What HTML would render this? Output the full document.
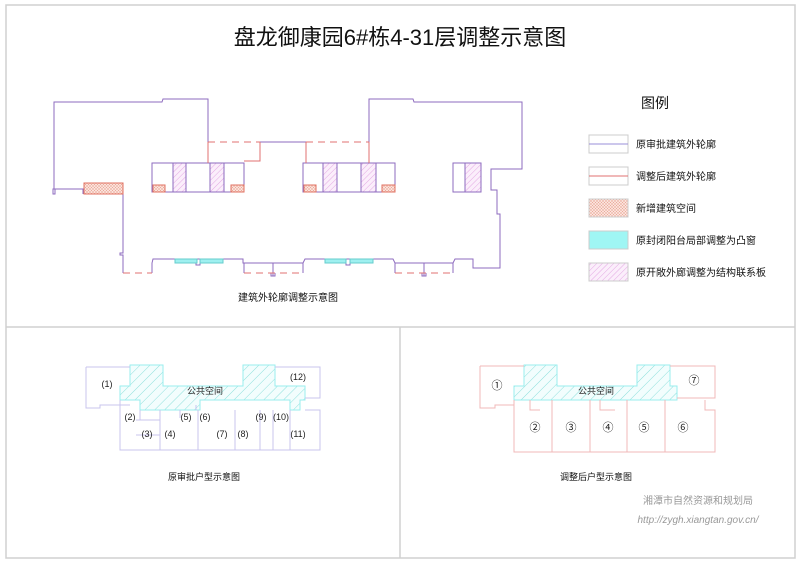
<!DOCTYPE html>
<html><head><meta charset="utf-8"><style>
html,body{margin:0;padding:0;background:#fff;width:800px;height:565px;overflow:hidden}
svg{display:block}
text{font-family:"Liberation Sans","Noto Sans CJK SC",sans-serif}
</style></head><body>
<svg width="800" height="565" viewBox="0 0 800 565" xmlns="http://www.w3.org/2000/svg">
<defs>
<pattern id="pk" width="4" height="4" patternUnits="userSpaceOnUse" patternTransform="rotate(45)"><rect width="4" height="4" fill="#fbeefb"/><line x1="0" y1="0" x2="0" y2="4" stroke="#e3a8e3" stroke-width="1"/></pattern>
<pattern id="rd" width="3" height="3" patternUnits="userSpaceOnUse"><rect width="3" height="3" fill="#fbe3dc"/><path d="M0,0L3,3M3,0L0,3" stroke="#eaa99a" stroke-width="0.5"/></pattern>
<pattern id="cy" width="7" height="7" patternUnits="userSpaceOnUse" patternTransform="rotate(45)"><rect width="7" height="7" fill="#f2fdfd"/><line x1="0" y1="0" x2="0" y2="7" stroke="#8fe0dc" stroke-width="1"/></pattern>
</defs>
<!-- frame -->
<g stroke="#d0d0d0" stroke-width="1.5" fill="none">
<rect x="6" y="5" width="789" height="553"/>
<line x1="6" y1="327" x2="795" y2="327"/>
<line x1="400" y1="327" x2="400" y2="558"/>
</g>
<text x="400" y="45" font-size="22" text-anchor="middle" fill="#111">盘龙御康园6#栋4-31层调整示意图</text>

<!-- main plan -->
<g fill="none" stroke="#8e6bbf" stroke-width="1">
<path d="M208,142 L208,99 L163,99 L162,102 L54,102 L54,189 L53,189 L53,194 L55,194 L55,189 L83,189 L83,194"/>
<path d="M123,194 L123,253 L120,253 L120,255 L123,255 L123,273"/>
<path d="M152,273 L152,263 L153,259 L243,259 L243,263 L244,263 L244,273"/>
<path d="M244,263 L303,263 M273,263 L273,276 M395,263 L453,263 M424,263 L424,276"/>
<path d="M303,273 L303,263 L305,259 L393,259 L395,263 L395,273"/>
<path d="M453,273 L453,263 L455,259 L473,259 L473,268 L500,268 L500,214 L497,214 L497,190 L491,190 L491,169 L522,169 L522,102 L414,102 L413,99 L369,99 L369,142"/>
<path d="M260,142 L306,142"/>
<path d="M196,259 L196,265 L200,265 L200,259 M346,259 L346,265 L350,265 L350,259 M271,273 L271,276 L275,276 L275,273 M422,273 L422,276 L426,276 L426,273"/>
<rect x="152" y="163" width="92" height="29"/>
<rect x="303" y="163" width="92" height="29"/>
<rect x="453" y="163" width="28" height="29"/>
</g>
<rect x="173" y="163" width="13" height="29" fill="url(#pk)" stroke="#8e6bbf"/>
<rect x="210" y="163" width="14" height="29" fill="url(#pk)" stroke="#8e6bbf"/>
<rect x="323" y="163" width="14" height="29" fill="url(#pk)" stroke="#8e6bbf"/>
<rect x="361" y="163" width="15" height="29" fill="url(#pk)" stroke="#8e6bbf"/>
<rect x="465" y="163" width="16" height="29" fill="url(#pk)" stroke="#8e6bbf"/>
<g fill="url(#rd)" stroke="#e07060">
<rect x="84" y="183" width="39" height="11"/>
<rect x="153" y="185" width="12" height="7"/>
<rect x="231" y="185" width="13" height="7"/>
<rect x="304" y="185" width="12" height="7"/>
<rect x="382" y="185" width="13" height="7"/>
</g>
<g fill="#9ff0f0" stroke="#6cc">
<rect x="175" y="259" width="22" height="4"/><rect x="200" y="259" width="23" height="4"/>
<rect x="325" y="259" width="21" height="4"/><rect x="350" y="259" width="23" height="4"/>
</g>
<g fill="none" stroke="#e07070" stroke-width="1">
<path d="M208,142 L208,163 M260,142 L260,161 L244,161 M306,142 L306,163 M369,142 L369,163"/>
<path d="M208,142 L260,142 M306,142 L369,142 M123,273 L152,273 M244,273 L303,273 M395,273 L453,273" stroke-dasharray="7,5"/>
</g>
<text x="288" y="301" font-size="10" text-anchor="middle" fill="#111">建筑外轮廓调整示意图</text>

<!-- legend -->
<text x="655" y="108" font-size="14" text-anchor="middle" fill="#111">图例</text>
<g stroke="#ccc" stroke-width="1">
<rect x="589" y="135" width="39" height="18" fill="#fff"/>
<rect x="589" y="167" width="39" height="18" fill="#fff"/>
<rect x="589" y="199" width="39" height="18" fill="url(#rd)"/>
<rect x="589" y="231" width="39" height="18" fill="#9ff6f4"/>
<rect x="589" y="263" width="39" height="18" fill="url(#pk)"/>
</g>
<line x1="589" y1="144" x2="628" y2="144" stroke="#9a8fd8"/>
<line x1="589" y1="176" x2="628" y2="176" stroke="#e07070"/>
<g font-size="10" fill="#111">
<text x="636" y="148">原审批建筑外轮廓</text>
<text x="636" y="180">调整后建筑外轮廓</text>
<text x="636" y="212">新增建筑空间</text>
<text x="636" y="244">原封闭阳台局部调整为凸窗</text>
<text x="636" y="276">原开敞外廊调整为结构联系板</text>
</g>

<!-- bottom left -->
<path d="M130,365 L163,365 L163,386 L243,386 L243,365 L275,365 L275,386 L305,386 L305,400 L300,400 L300,410 L290,410 L290,400 L200,400 L200,410 L140,410 L140,400 L120,400 L120,386 L130,386 Z" fill="url(#cy)" stroke="#9ee"/>
<g fill="none" stroke="#c8c4ee" stroke-width="1">
<path d="M86,367 L130,367 M86,367 L86,408 L100,408 L100,405 L130,405"/>
<path d="M275,367 L320,367 L320,398 L305,398"/>
<path d="M120,400 L120,450 L320,450 L320,410 L305,410 M140,410 L140,420 M136,420 L160,420 L160,435 L136,435 M160,410 L160,450 M198,410 L198,450 M235,410 L235,450 M260,410 L260,450 M273,410 L273,450 M290,410 L290,450 M196,405 L196,410 M180,410 L180,418"/>
</g>
<g font-size="9" fill="#222" text-anchor="middle">
<text x="107" y="387">(1)</text><text x="298" y="380">(12)</text>
<text x="205" y="394">公共空间</text>
<text x="130" y="420">(2)</text><text x="147" y="437">(3)</text><text x="170" y="437">(4)</text>
<text x="186" y="420">(5)</text><text x="205" y="420">(6)</text><text x="222" y="437">(7)</text>
<text x="243" y="437">(8)</text><text x="261" y="420">(9)</text><text x="281" y="420">(10)</text>
<text x="298" y="437">(11)</text>
</g>
<text x="204" y="480" font-size="9" text-anchor="middle" fill="#111">原审批户型示意图</text>

<!-- bottom right -->
<path d="M524,365 L557,365 L557,386 L637,386 L637,365 L670,365 L670,386 L677,386 L677,400 L514,400 L514,386 L524,386 Z" fill="url(#cy)" stroke="#9ee"/>
<g fill="none" stroke="#f0b8b8" stroke-width="1">
<path d="M480,366 L524,366 M480,366 L480,408 L495,408 L495,405 L514,405"/>
<path d="M670,366 L715,366 L715,398 L677,398"/>
<path d="M514,400 L514,452 L715,452 L715,410 L705,410 L705,400 M552,400 L552,452 M590,400 L590,452 M627,400 L627,452 M665,400 L665,452 M530,400 L530,410 L540,410 M600,400 L600,410 L615,410"/>
</g>
<g font-size="11" fill="#222" text-anchor="middle">
<text x="497" y="389">①</text><text x="694" y="384">⑦</text>
<text x="535" y="431">②</text><text x="571" y="431">③</text><text x="608" y="431">④</text>
<text x="644" y="431">⑤</text><text x="683" y="431">⑥</text>
</g>
<text x="596" y="394" font-size="9" text-anchor="middle" fill="#222">公共空间</text>
<text x="596" y="480" font-size="9" text-anchor="middle" fill="#111">调整后户型示意图</text>

<text x="698" y="504" font-size="10" text-anchor="middle" fill="#999">湘潭市自然资源和规划局</text>
<text x="698" y="523" font-size="10" text-anchor="middle" fill="#999" font-style="italic" font-family="Liberation Serif,serif">http://zygh.xiangtan.gov.cn/</text>
</svg>
</body></html>
